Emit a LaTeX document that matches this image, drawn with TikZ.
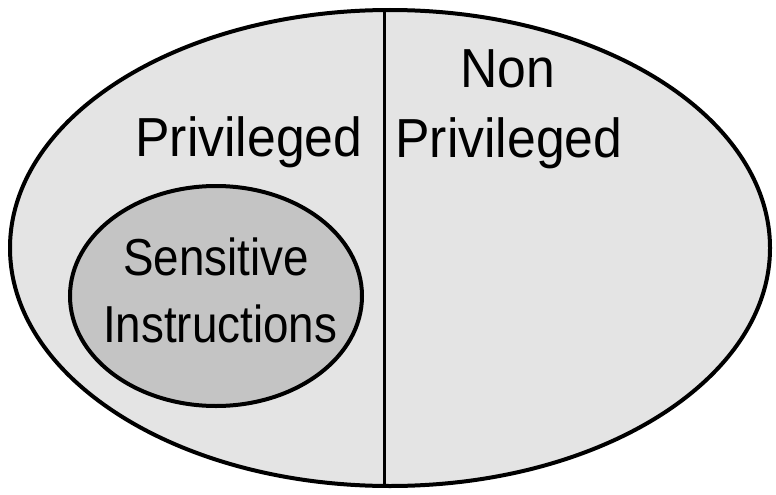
\documentclass[tikz,border=0pt]{standalone}
\usepackage{fontspec}
\setmainfont{Liberation Sans}
\definecolor{outerfill}{HTML}{E4E4E4}
\definecolor{innerfill}{HTML}{C4C4C4}
\tikzset{
  rim/.style={draw=black, line width=4pt},
  bigtext/.style={font=\fontsize{55}{60}\selectfont, inner sep=0pt, anchor=base, xscale=0.94, transform shape},
  smalltext/.style={font=\fontsize{52}{58}\selectfont, inner sep=0pt, anchor=base, xscale=0.88, transform shape}
}
\begin{document}
\begin{tikzpicture}[x=1pt,y=-1pt]
\useasboundingbox (0,0) rectangle (776,495);
\fill[white] (0,0) rectangle (776,495);
\filldraw[rim, fill=outerfill] (390,248) ellipse [x radius=380, y radius=238];
\coordinate (divtop) at (384,10.2);
\coordinate (divbot) at (384,485.8);
\draw[line width=3pt] (divtop) -- (divbot);
\filldraw[rim, fill=innerfill] (216,296) ellipse [x radius=146, y radius=110];
\node[bigtext] (priv) at (249,156) {Privileged};
\node[bigtext] (non) at (508,87) {Non};
\node[bigtext] (npriv) at (509,157) {Privileged};
\node[smalltext] (sens) at (216,275) {Sensitive};
\node[smalltext] (instr) at (220,342) {Instructions};
\end{tikzpicture}
\end{document}
